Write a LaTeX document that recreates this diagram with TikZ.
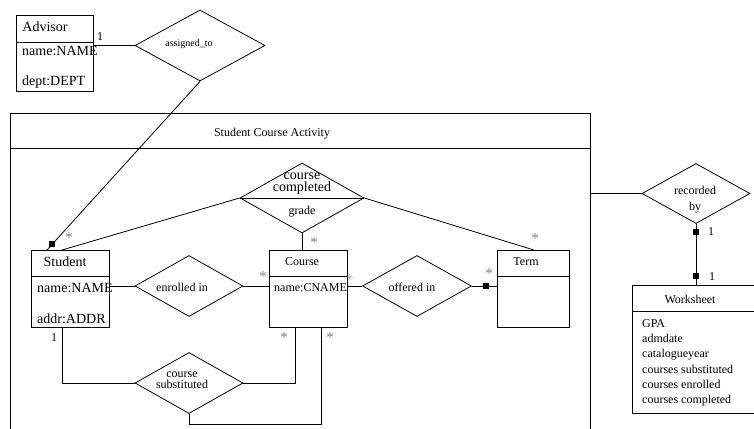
\documentclass[tikz,border=0pt]{standalone}
\usepackage{fontspec}
\setmainfont{Liberation Serif}
\usetikzlibrary{shapes.geometric,calc}
\tikzset{
  ln/.style={line width=0.8pt},
  ebox/.style={draw, line width=0.8pt, rectangle, anchor=north west, inner sep=0pt},
  rel/.style={draw, line width=0.8pt, diamond, inner sep=0pt},
  tsm/.style={inner sep=0pt, font=\fontsize{10}{10}\selectfont},
  tmd/.style={inner sep=0pt, font=\fontsize{12}{12}\selectfont},
  tbg/.style={inner sep=0pt, font=\fontsize{14}{14}\selectfont},
  amd/.style={tmd, anchor=base west},
  abg/.style={tbg, anchor=base west},
  mult/.style={inner sep=0pt, font=\fontsize{15}{15}\selectfont, text=gray},
  one/.style={inner sep=0pt, font=\fontsize{12}{12}\selectfont},
  sq/.style={fill=black, inner sep=0pt, minimum size=6pt, rectangle},
}
\begin{document}
\begin{tikzpicture}[x=1pt,y=-1pt]
\useasboundingbox (0,0) rectangle (754,428);
\clip (0,0) rectangle (754,428);
\fill[white] (0,0) rectangle (754,428);

% boxes
\node[ebox, minimum width=77pt, minimum height=76pt] (adv) at (16,15) {};
\node[ebox, minimum width=580pt, minimum height=340pt] (frame) at (10,113) {};
\node[ebox, minimum width=78pt, minimum height=77pt] (stu) at (31,250) {};
\node[ebox, minimum width=78pt, minimum height=77pt] (crs) at (269,250) {};
\node[ebox, minimum width=72pt, minimum height=77pt] (term) at (497,250) {};
\node[ebox, minimum width=150pt, minimum height=128pt] (ws) at (632,285) {};

% header lines
\draw[ln] ($(adv.north west)+(0,27)$) -- ($(adv.north east)+(0,27)$);
\draw[ln] ($(frame.north west)+(0,35)$) -- ($(frame.north east)+(0,35)$);
\draw[ln] ($(stu.north west)+(0,26)$) -- ($(stu.north east)+(0,26)$);
\draw[ln] ($(crs.north west)+(0,26)$) -- ($(crs.north east)+(0,26)$);
\draw[ln] ($(term.north west)+(0,26)$) -- ($(term.north east)+(0,26)$);
\draw[ln] ($(ws.north west)+(0,26)$) -- ($(ws.north east)+(0,26)$);

% relationships
\node[rel, minimum width=130pt, minimum height=71pt] (asg) at (200,45.5) {};
\node[rel, minimum width=124pt, minimum height=70pt] (cc) at (302,198) {};
\draw[ln] (cc.west) -- (cc.east);
\node[rel, minimum width=108pt, minimum height=61pt] (enr) at (189,286) {};
\node[rel, minimum width=109pt, minimum height=61pt] (off) at (417,286) {};
\node[rel, minimum width=108pt, minimum height=61pt] (csub) at (189,383) {};
\node[rel, minimum width=108pt, minimum height=60pt] (rec) at (696,193.5) {};

% texts
\node[tbg] (tadv) at (45,27) {Advisor};
\node[abg] (a1) at (22,56) {name:NAME};
\node[abg] (a2) at (22,85) {dept:DEPT};
\node[tbg] (tstu) at (65,262) {Student};
\node[abg] (s1) at (37,292) {name:NAME};
\node[abg] (s2) at (37,323) {addr:ADDR};
\node[tmd] (tcrs) at (302,262) {Course};
\node[amd] (c1) at (274,291.5) {name:CNAME};
\node[tmd] (tterm) at (526,262) {Term};
\node[tmd] (tws) at (690,299) {Worksheet};
\node[amd] (w1) at (642,327.5) {GPA};
\node[amd] (w2) at (642,342.5) {admdate};
\node[amd] (w3) at (642,357.5) {catalogueyear};
\node[amd] (w4) at (642,373) {courses substituted};
\node[amd] (w5) at (642,388) {courses enrolled};
\node[amd] (w6) at (642,403) {courses completed};
\node[tmd] (tframe) at (272,134) {Student Course Activity};
\node[tsm] (tasg) at (189,44) {assigned\_to};
\node[inner sep=0pt, align=center, font=\fontsize{14}{12.5}\selectfont] (tcc) at (302,183.5) {course\\completed};
\node[tmd] (tgr) at (302,212) {grade};
\node[tmd] (tenr) at (182,287) {enrolled in};
\node[tmd] (toff) at (412,287) {offered in};
\node[inner sep=0pt, align=center, font=\fontsize{12}{10.5}\selectfont] (tcs) at (182,380) {course\\substituted};
\node[inner sep=0pt, align=center, font=\fontsize{12}{16}\selectfont] (trec) at (695,200) {recorded\\by};

% connectors
\draw[ln] (adv.east |- asg.west) -- (asg.west);
\coordinate (stuA) at ($(stu.north west)+(16,0)$);
\draw[ln] (asg.south) -- (stuA);
\node[sq] (sq1) at ($(stuA)!8pt!(asg.south)$) {};
\draw[ln] (cc.west) -- ($(stu.north west)+(31,0)$);
\draw[ln] (cc.east) -- ($(term.north west)+(37,0)$);
\draw[ln] (cc.south) -- (cc.south |- crs.north);
\draw[ln] (enr.west -| stu.east) -- (enr.west);
\draw[ln] (enr.east) -- (enr.east -| crs.west);
\draw[ln] (off.west -| crs.east) -- (off.west);
\draw[ln] (off.east) -- (off.east -| term.west);
\node[sq] (sq2) at ($(off.east -| term.west)+(-11,0)$) {};
\draw[ln] ($(stu.south west)+(31,0)$) |- (csub.west);
\draw[ln] (csub.east) -| ($(crs.south west)+(26,0)$);
\draw[ln] (csub.south) -- ++(0,10) -| ($(crs.south west)+(52,0)$);
\draw[ln] (frame.east |- rec.west) -- (rec.west);
\draw[ln] (rec.south) -- (rec.south |- ws.north);
\node[sq] (sq3) at ($(rec.south)+(0,8.5)$) {};
\node[sq] (sq4) at ($(rec.south |- ws.north)+(0,-9)$) {};

% multiplicities
\node[one] (m1) at (100,37) {1};
\node[mult] (m2) at (69,238) {*};
\node[mult] (m3) at (314,243) {*};
\node[mult] (m4) at (263,277) {*};
\node[mult, font=\fontsize{12}{12}\selectfont] (m5) at (350,278) {+};
\node[mult] (m6) at (489,274) {*};
\node[mult] (m7) at (535,239) {*};
\node[one] (m8) at (54,338) {1};
\node[mult] (m9) at (284,338) {*};
\node[mult] (m10) at (330,338) {*};
\node[one] (m11) at (711,232) {1};
\node[one] (m12) at (712,277) {1};
\end{tikzpicture}
\end{document}
